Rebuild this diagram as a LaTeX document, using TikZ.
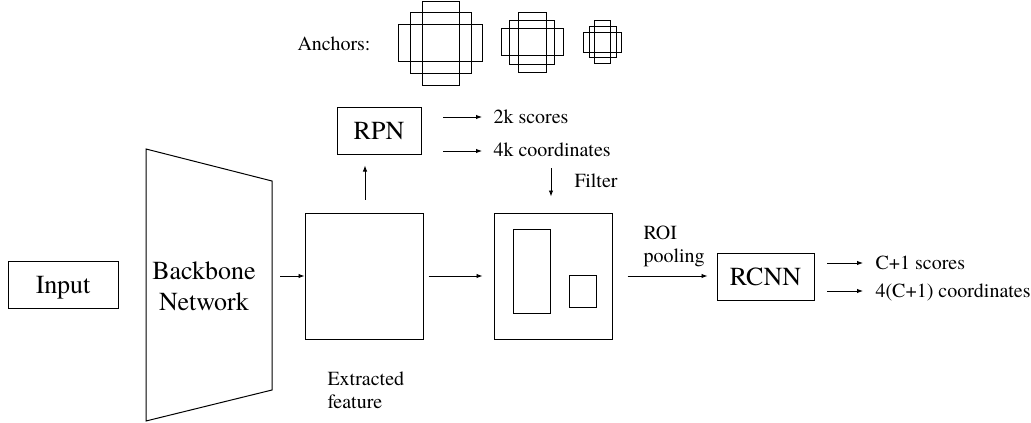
\documentclass[tikz,border=0pt]{standalone}
\usepackage{fontspec}
\setmainfont{TeX Gyre Termes}
\usetikzlibrary{arrows.meta,calc}
\begin{document}
\begin{tikzpicture}[x=1pt,y=-1pt,
  line width=1pt,
  box/.style={draw, inner sep=0pt, text height=17.5pt, text depth=0pt,
    font=\fontsize{26}{31}\selectfont},
  big/.style={inner sep=0pt, font=\fontsize{26}{31}\selectfont},
  lbl/.style={inner sep=0pt, anchor=base west, align=left,
    font=\fontsize{20}{23}\selectfont},
  frame/.style={draw, inner sep=0pt},
  anc/.style={draw, line width=0.9pt, inner sep=0pt},
  arr/.style={-{Latex[length=6pt,width=4.5pt]}, line width=0.9pt},
]
\useasboundingbox (0,0) rectangle (1031,423);

% ---- anchor boxes: three scales, three aspect ratios each ----
\node[lbl] (anchors) at (297,50) {Anchors:};
\foreach \cx/\cy/\ww/\wh/\sw/\sh/\tw/\th/\nm in
  {440.5/43/84/37/61/61/37/84/a,
   532/42/62/27/45/44/28/60/b,
   602.5/42/38/20/27/31/16/43/c}{
  \node[anc, minimum width=\ww pt, minimum height=\wh pt] (\nm wide) at (\cx,\cy) {};
  \node[anc, minimum width=\sw pt, minimum height=\sh pt] (\nm sq) at (\cx,\cy) {};
  \node[anc, minimum width=\tw pt, minimum height=\th pt] (\nm tall) at (\cx,\cy) {};
}

% ---- input and backbone ----
\node[box, minimum width=110pt, minimum height=47pt] (input) at (63,284.5) {Input};
\coordinate (bbTL) at (146,149);
\coordinate (bbTR) at (272,181);
\coordinate (bbBR) at (272,390);
\coordinate (bbBL) at (146,421);
\draw (bbTL) -- (bbTR) -- (bbBR) -- (bbBL) -- cycle;
% multi-line nodes: the base anchor sits on the last line
\node[big, anchor=base, align=center] (bb) at (204,310) {Backbone\\Network};

% ---- feature map ----
\node[frame, minimum width=118pt, minimum height=126pt] (feat) at (364,276) {};
\node[lbl] (extr) at (327,408) {Extracted\\feature};
\coordinate (bbout) at (280,276);
\draw[arr] (bbout) -- (feat.west);

% ---- region proposal network ----
\node[box, minimum width=84pt, minimum height=47pt] (rpn) at (379,130.5) {RPN};
\coordinate (upx) at (365,0);
\draw[arr, shorten <=13pt, shorten >=11pt] (feat.north -| upx) -- (rpn.south -| upx);

\node[lbl] (sc2k) at (493,123) {2k scores};
\node[lbl] (co4k) at (493,156) {4k coordinates};
\coordinate (s2k) at (443,117);
\coordinate (c4k) at (443,151);
\draw[arr, shorten >=11pt] (s2k) -- (s2k -| sc2k.west);
\draw[arr, shorten >=11pt] (c4k) -- (c4k -| co4k.west);

% ---- proposals on the feature map ----
\node[frame, minimum width=118pt, minimum height=126pt] (roi) at (553,276) {};
\node[frame, minimum width=37pt, minimum height=84pt] (prop1) at (531.5,271) {};
\node[frame, minimum width=27pt, minimum height=32pt] (prop2) at (582.5,291) {};
\coordinate (fx) at (551,168);
\draw[arr, shorten >=16pt] (fx) -- (fx |- roi.north);
\node[lbl] (filter) at (574,187) {Filter};
\draw[arr, shorten <=5pt, shorten >=11pt] (feat.east) -- (roi.west);

% ---- ROI pooling and RCNN head ----
\node[box, minimum width=97pt, minimum height=47pt] (rcnn) at (765.5,276.5) {RCNN};
\draw[arr, shorten <=15pt, shorten >=9pt] (roi.east) -- (roi.east -| rcnn.west);
\node[lbl] (pool) at (643,262) {ROI\\pooling};

\node[lbl] (csc) at (875,269) {C+1 scores};
\node[lbl] (cco) at (875,297) {4(C+1) coordinates};
\coordinate (r1) at (827,263);
\coordinate (r2) at (827,291);
\draw[arr, shorten >=12pt] (r1) -- (r1 -| csc.west);
\draw[arr, shorten >=12pt] (r2) -- (r2 -| cco.west);
\end{tikzpicture}
\end{document}
